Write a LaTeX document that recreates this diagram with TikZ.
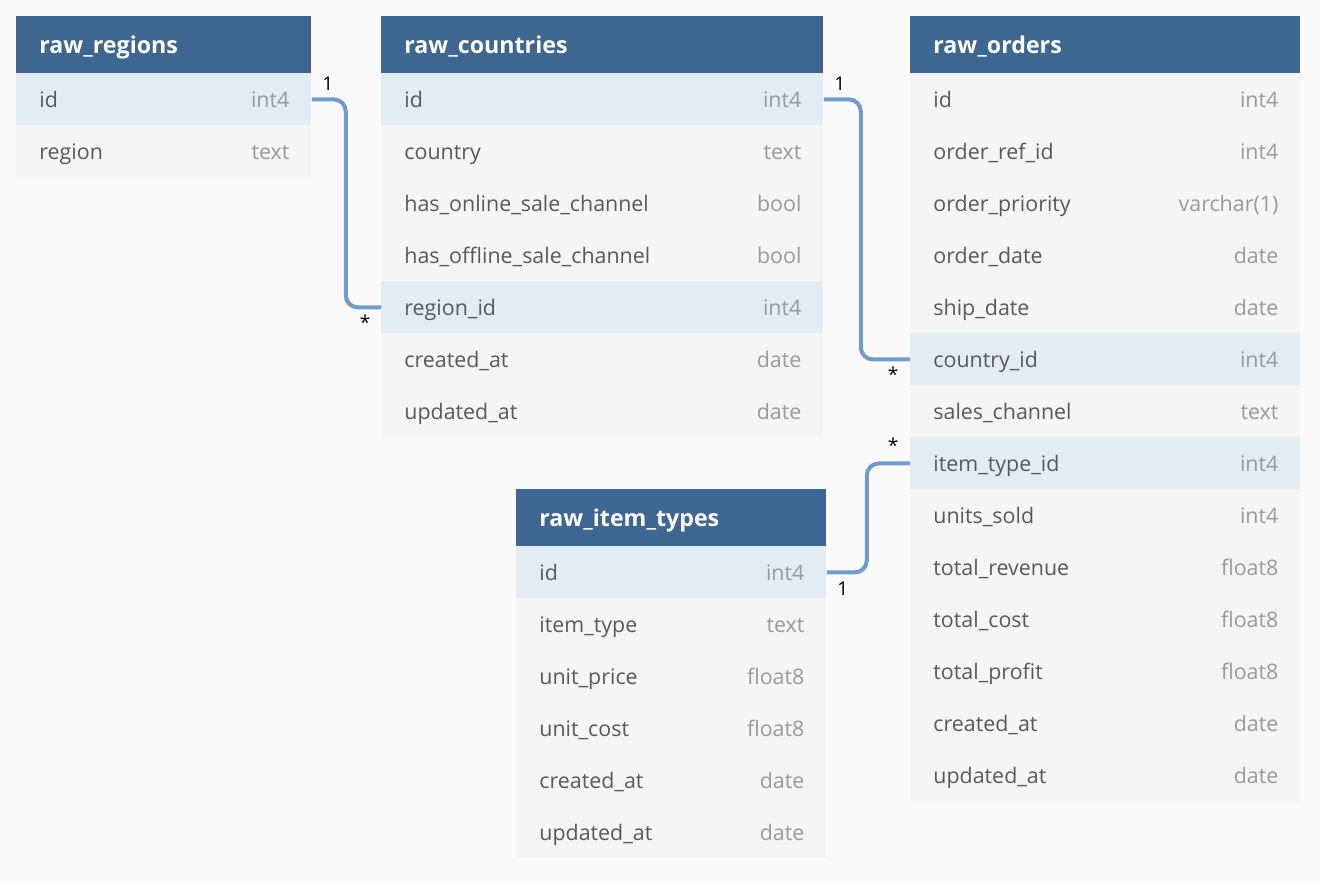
\documentclass[tikz,border=0pt]{standalone}
\usepackage{fontspec}
\setmainfont{Open Sans}
\definecolor{bgcol}{HTML}{FAFAFA}
\definecolor{headblue}{HTML}{3D6690}
\definecolor{keyblue}{HTML}{E1ECF3}
\definecolor{rowgray}{HTML}{F5F5F5}
\definecolor{namegray}{HTML}{595959}
\definecolor{typegray}{HTML}{9A9A9A}
\definecolor{linkblue}{HTML}{6F9CCB}
\tikzset{
  tabhead/.style={fill=headblue, minimum height=28.5pt, inner sep=0pt, anchor=north west},
  tabtitle/.style={text=white, font=\bfseries\fontsize{11.6}{13}\selectfont, inner sep=0pt, anchor=base west},
  keyrow/.style={fill=keyblue, minimum height=26pt, inner sep=0pt, anchor=north west},
  plainrow/.style={fill=rowgray, minimum height=26pt, inner sep=0pt, anchor=north west},
  fname/.style={text=namegray, font=\fontsize{10.7}{12}\selectfont, inner sep=0pt, anchor=base west},
  ftype/.style={text=typegray, font=\fontsize{10.7}{12}\selectfont, inner sep=0pt, anchor=base east},
  link/.style={draw=linkblue, line width=2pt, rounded corners=6pt},
  card/.style={font=\fontsize{9.5}{10}\selectfont, inner sep=0pt}
}
\begin{document}
\begin{tikzpicture}[x=0.5pt, y=-0.5pt]
  \fill[bgcol] (0,0) rectangle (1320,882);
  \useasboundingbox (0,0) rectangle (1320,882);

  % raw_regions
  \node[tabhead, minimum width=147.5pt] (reg) at (16,16) {};
  \node[tabtitle] (reg-t) at ([xshift=11.5pt, yshift=-4.25pt]reg.west) {raw\_regions};
  \foreach \fn/\ft/\fs [count=\i] in {id/int4/keyrow, region/text/plainrow} {
    \node[\fs, minimum width=147.5pt] (reg\i) at (16,{73+52*(\i-1)}) {};
    \node[fname] (reg\i-n) at ([xshift=11.5pt, yshift=-4pt]reg\i.west) {\fn};
    \node[ftype] (reg\i-t) at ([xshift=-11pt, yshift=-4pt]reg\i.east) {\ft};
  }

  % raw_countries
  \node[tabhead, minimum width=221pt] (cty) at (381,16) {};
  \node[tabtitle] (cty-t) at ([xshift=11.5pt, yshift=-4.25pt]cty.west) {raw\_countries};
  \foreach \fn/\ft/\fs [count=\i] in {id/int4/keyrow, country/text/plainrow,
      has\_online\_sale\_channel/bool/plainrow, has\_offline\_sale\_channel/bool/plainrow,
      region\_id/int4/keyrow, created\_at/date/plainrow, updated\_at/date/plainrow} {
    \node[\fs, minimum width=221pt] (cty\i) at (381,{73+52*(\i-1)}) {};
    \node[fname] (cty\i-n) at ([xshift=11.5pt, yshift=-4pt]cty\i.west) {\fn};
    \node[ftype] (cty\i-t) at ([xshift=-11pt, yshift=-4pt]cty\i.east) {\ft};
  }

  % raw_orders
  \node[tabhead, minimum width=195pt] (ord) at (910,16) {};
  \node[tabtitle] (ord-t) at ([xshift=11.5pt, yshift=-4.25pt]ord.west) {raw\_orders};
  \foreach \fn/\ft/\fs [count=\i] in {id/int4/plainrow, order\_ref\_id/int4/plainrow,
      order\_priority/varchar(1)/plainrow, order\_date/date/plainrow, ship\_date/date/plainrow,
      country\_id/int4/keyrow, sales\_channel/text/plainrow, item\_type\_id/int4/keyrow,
      units\_sold/int4/plainrow, total\_revenue/float8/plainrow, total\_cost/float8/plainrow,
      total\_profit/float8/plainrow, created\_at/date/plainrow, updated\_at/date/plainrow} {
    \node[\fs, minimum width=195pt] (ord\i) at (910,{73+52*(\i-1)}) {};
    \node[fname] (ord\i-n) at ([xshift=11.5pt, yshift=-4pt]ord\i.west) {\fn};
    \node[ftype] (ord\i-t) at ([xshift=-11pt, yshift=-4pt]ord\i.east) {\ft};
  }

  % raw_item_types
  \node[tabhead, minimum width=155pt] (itm) at (516,489) {};
  \node[tabtitle] (itm-t) at ([xshift=11.5pt, yshift=-4.25pt]itm.west) {raw\_item\_types};
  \foreach \fn/\ft/\fs [count=\i] in {id/int4/keyrow, item\_type/text/plainrow,
      unit\_price/float8/plainrow, unit\_cost/float8/plainrow,
      created\_at/date/plainrow, updated\_at/date/plainrow} {
    \node[\fs, minimum width=155pt] (itm\i) at (516,{546+52*(\i-1)}) {};
    \node[fname] (itm\i-n) at ([xshift=11.5pt, yshift=-4pt]itm\i.west) {\fn};
    \node[ftype] (itm\i-t) at ([xshift=-11pt, yshift=-4pt]itm\i.east) {\ft};
  }

  % relations
  \draw[link] (reg1.east) -- ++(34,0) |- (cty5.west);
  \draw[link] (cty1.east) -- ++(37,0) |- (ord6.west);
  \draw[link] (itm1.east) -- ++(40,0) |- (ord8.west);
  \node[card] (c1) at ([xshift=8pt, yshift=8pt]reg1.east) {1};
  \node[card] (c2) at ([xshift=-8pt, yshift=-7.5pt]cty5.west) {*};
  \node[card] (c3) at ([xshift=8pt, yshift=8pt]cty1.east) {1};
  \node[card] (c4) at ([xshift=-8.5pt, yshift=-7.5pt]ord6.west) {*};
  \node[card] (c5) at ([xshift=-8.5pt, yshift=9pt]ord8.west) {*};
  \node[card] (c6) at ([xshift=8pt, yshift=-8pt]itm1.east) {1};
\end{tikzpicture}
\end{document}
